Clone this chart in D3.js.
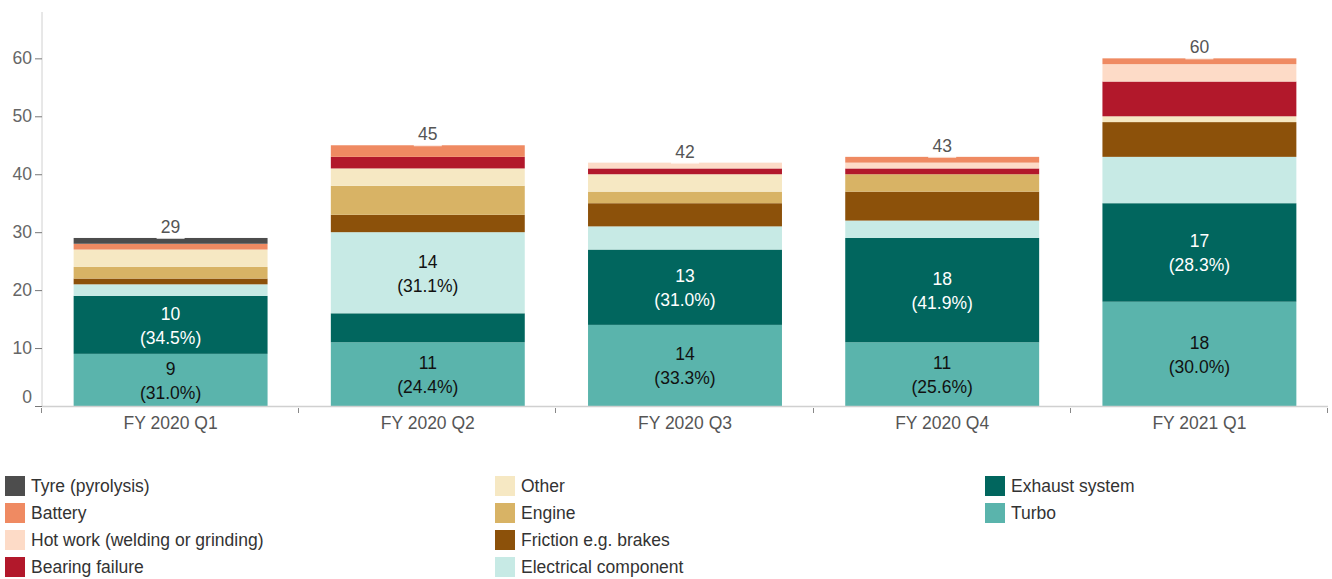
<!DOCTYPE html>
<html>
<head>
<meta charset="utf-8">
<script src="https://cdn.jsdelivr.net/npm/d3@7"></script>
<style>
  html, body { margin: 0; padding: 0; background: #fff; }
  svg { display: block; font-family: "Liberation Sans", Arial, Helvetica, sans-serif; }
</style>
</head>
<body>
<svg id="chart" width="1332" height="579"></svg>
<script>
// Quarters shown along the x axis
const quarters = ["FY 2020 Q1", "FY 2020 Q2", "FY 2020 Q3", "FY 2020 Q4", "FY 2021 Q1"];

// Fire cause categories, stacked bottom to top
const causes = [
  "Turbo", "Exhaust system", "Electrical component", "Friction e.g. brakes",
  "Engine", "Other", "Bearing failure", "Hot work (welding or grinding)",
  "Battery", "Tyre (pyrolysis)"
];

// Incident counts per cause, one value per quarter
const turbo      = [9, 11, 14, 11, 18];
const exhaust    = [10, 5, 13, 18, 17];
const electrical = [2, 14, 4, 3, 8];
const friction   = [1, 3, 4, 5, 6];
const engine     = [2, 5, 2, 3, 0];
const other      = [3, 3, 3, 0, 1];
const bearing    = [0, 2, 1, 1, 6];
const hotWork    = [0, 0, 1, 1, 3];
const battery    = [1, 2, 0, 1, 1];
const tyre       = [1, 0, 0, 0, 0];

const seriesValues = [turbo, exhaust, electrical, friction, engine, other, bearing, hotWork, battery, tyre];

const colors = ["#5ab4ac", "#01665e", "#c7eae5", "#8c510a", "#d8b365",
                "#f6e8c3", "#b2182b", "#fddbc7", "#ef8a62", "#4d4d4d"];

// Segments whose labels are drawn in white
const darkFill = new Set(["#01665e", "#8c510a", "#b2182b", "#4d4d4d"]);

// Legend columns, top to bottom
const legendColumns = [
  ["Tyre (pyrolysis)", "Battery", "Hot work (welding or grinding)", "Bearing failure"],
  ["Other", "Engine", "Friction e.g. brakes", "Electrical component"],
  ["Exhaust system", "Turbo"]
];

const yTicks = [0, 10, 20, 30, 40, 50, 60];

const FS = 17.5;

// Build row objects for d3.stack
const rows = quarters.map((q, i) => {
  const r = { quarter: q };
  causes.forEach((c, k) => { r[c] = seriesValues[k][i]; });
  r.total = causes.reduce((s, c) => s + r[c], 0);
  return r;
});

const svg = d3.select("#chart");
const margin = { left: 42, right: 4, top: 12, bottom: 173 };
const W = 1332, H = 579;
const plotBottom = H - margin.bottom; // 406

const x = d3.scaleBand()
  .domain(quarters)
  .range([margin.left, W - margin.right])
  .paddingInner(0.246)
  .paddingOuter(0.123);

const y = d3.scaleLinear().domain([0, 68]).range([plotBottom, margin.top]);

const color = d3.scaleOrdinal().domain(causes).range(colors);

const stacked = d3.stack().keys(causes)(rows);

// Bars
const g = svg.append("g");
stacked.forEach(layer => {
  g.append("g")
    .attr("fill", color(layer.key))
    .selectAll("rect")
    .data(layer.filter(d => d[1] - d[0] > 0))
    .join("rect")
    .attr("x", d => x(d.data.quarter))
    .attr("width", x.bandwidth())
    .attr("y", d => y(d[1]))
    .attr("height", d => y(d[0]) - y(d[1]));
});

// Segment value labels for larger segments
stacked.forEach(layer => {
  const fill = color(layer.key);
  const txtColor = darkFill.has(fill) ? "#ffffff" : "#111111";
  layer.forEach(d => {
    const v = d[1] - d[0];
    if (v < 9) return;
    const cx = x(d.data.quarter) + x.bandwidth() / 2;
    const cy = (y(d[0]) + y(d[1])) / 2;
    const pct = (v / d.data.total * 100).toFixed(1) + "%";
    const t = g.append("text")
      .attr("text-anchor", "middle")
      .attr("fill", txtColor)
      .attr("font-size", FS);
    t.append("tspan").attr("x", cx).attr("y", cy - 12).attr("dy", "0.4em").text(v);
    t.append("tspan").attr("x", cx).attr("y", cy + 12).attr("dy", "0.4em").text("(" + pct + ")");
  });
});

// Total labels above each bar
rows.forEach(r => {
  const cx = x(r.quarter) + x.bandwidth() / 2;
  const top = y(r.total);
  svg.append("rect")
    .attr("x", cx - 14).attr("y", top - 20)
    .attr("width", 28).attr("height", 21)
    .attr("fill", "#ffffff").attr("opacity", 0.75);
  svg.append("text")
    .attr("x", cx).attr("y", top - 11)
    .attr("dy", "0.35em")
    .attr("text-anchor", "middle")
    .attr("fill", "#555555")
    .attr("font-size", FS)
    .text(r.total);
});

// Y axis
const yAxis = svg.append("g")
  .attr("transform", `translate(${margin.left},0)`)
  .call(d3.axisLeft(y).tickValues(yTicks).tickSize(7).tickPadding(3));
yAxis.select(".domain").attr("stroke", "#d0d0d0").attr("d", `M0,${margin.top}V${plotBottom + 1}`);
yAxis.selectAll(".tick line").attr("stroke", "#777");
yAxis.selectAll(".tick text")
  .attr("fill", "#666")
  .attr("font-size", FS)
  .attr("font-family", "Liberation Sans, Arial, sans-serif")
  .attr("dy", d => d === 0 ? "-0.2em" : "0.32em");

// X axis with ticks on category boundaries
const xAxisG = svg.append("g").attr("transform", `translate(0,${plotBottom})`);
xAxisG.append("line")
  .attr("x1", margin.left).attr("x2", W - margin.right)
  .attr("y1", 0.5).attr("y2", 0.5)
  .attr("stroke", "#d0d0d0").attr("stroke-width", 1.5);
const bounds = quarters.map(q => x(q) - x.step() * x.paddingInner() / 2)
  .concat([x(quarters[quarters.length - 1]) + x.bandwidth() + x.step() * x.paddingInner() / 2]);
xAxisG.selectAll("line.tk").data(bounds).join("line")
  .attr("class", "tk")
  .attr("x1", d => Math.round(d) - 0.5).attr("x2", d => Math.round(d) - 0.5)
  .attr("y1", 2).attr("y2", 7)
  .attr("stroke", "#888");
xAxisG.selectAll("text").data(quarters).join("text")
  .attr("x", d => x(d) + x.bandwidth() / 2)
  .attr("y", 17)
  .attr("dy", "0.35em")
  .attr("text-anchor", "middle")
  .attr("fill", "#555")
  .attr("font-size", FS)
  .text(d => d);

// Legend
const legendX = [5, 495, 985];
legendColumns.forEach((col, ci) => {
  col.forEach((name, ri) => {
    const gy = 476 + ri * 27;
    const lg = svg.append("g").attr("transform", `translate(${legendX[ci]},${gy})`);
    lg.append("rect").attr("width", 20).attr("height", 20).attr("fill", color(name));
    lg.append("text")
      .attr("x", 26).attr("y", 10).attr("dy", "0.35em")
      .attr("fill", "#333")
      .attr("font-size", FS)
      .text(name);
  });
});
</script>
</body>
</html>
